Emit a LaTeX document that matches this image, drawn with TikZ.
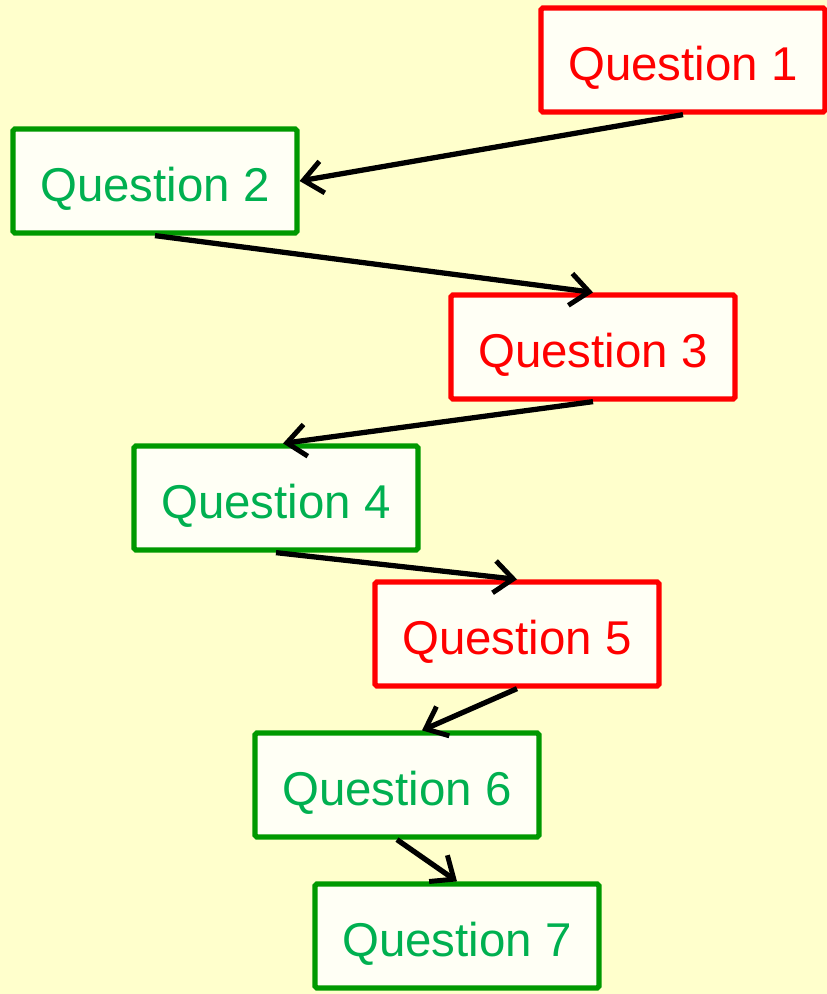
\documentclass[tikz,border=0pt]{standalone}
\usepackage{fontspec}
\setmainfont{Liberation Sans}
\usepackage{xcolor}
\definecolor{paper}{HTML}{FFFFCC}
\definecolor{boxfill}{HTML}{FFFFF5}
\definecolor{wrongred}{HTML}{FF0000}
\definecolor{rightedge}{HTML}{009900}
\definecolor{righttext}{HTML}{00B050}
\usepackage{tikz}
\usetikzlibrary{arrows.meta}

\begin{document}
\begin{tikzpicture}[
      x=0.02cm, y=-0.02cm,
      font=\fontsize{27}{32}\selectfont,
      qbox/.style={rectangle, rounded corners=1pt, fill=boxfill, line width=3pt,
                   minimum width=5.68cm, minimum height=2.08cm, inner sep=0pt,
                   text height=23pt, text depth=0pt},
      wrong/.style={qbox, draw=wrongred, text=wrongred},
      right/.style={qbox, draw=rightedge, text=righttext},
      a/.style={-{Straight Barb[length=3.8mm, width=6.4mm, line width=2.8pt]}, line width=3pt, black},
    ]
    \fill[paper] (0,0) rectangle (827,994);
    \useasboundingbox (0,0) rectangle (827,994);

    \node[wrong] (q1) at (683, 60)  {Question 1};
    \node[right] (q2) at (155, 181) {Question 2};
    \node[wrong] (q3) at (593, 347) {Question 3};
    \node[right] (q4) at (276, 498) {Question 4};
    \node[wrong] (q5) at (517, 634) {Question 5};
    \node[right] (q6) at (397, 785) {Question 6};
    \node[right] (q7) at (457, 936) {Question 7};

    \draw[a] (q1.south) -- (q2.east);
    \draw[a] (q2.south) -- (q3.north);
    \draw[a] (q3.south) -- ([xshift=4pt]q4.north);
    \draw[a] (q4.south) -- (q5.north);
    \draw[a] (q5.south) -- ([xshift=0.5cm]q6.north);
    \draw[a] (q6.south) -- (q7.north);
  \end{tikzpicture}
\end{document}
